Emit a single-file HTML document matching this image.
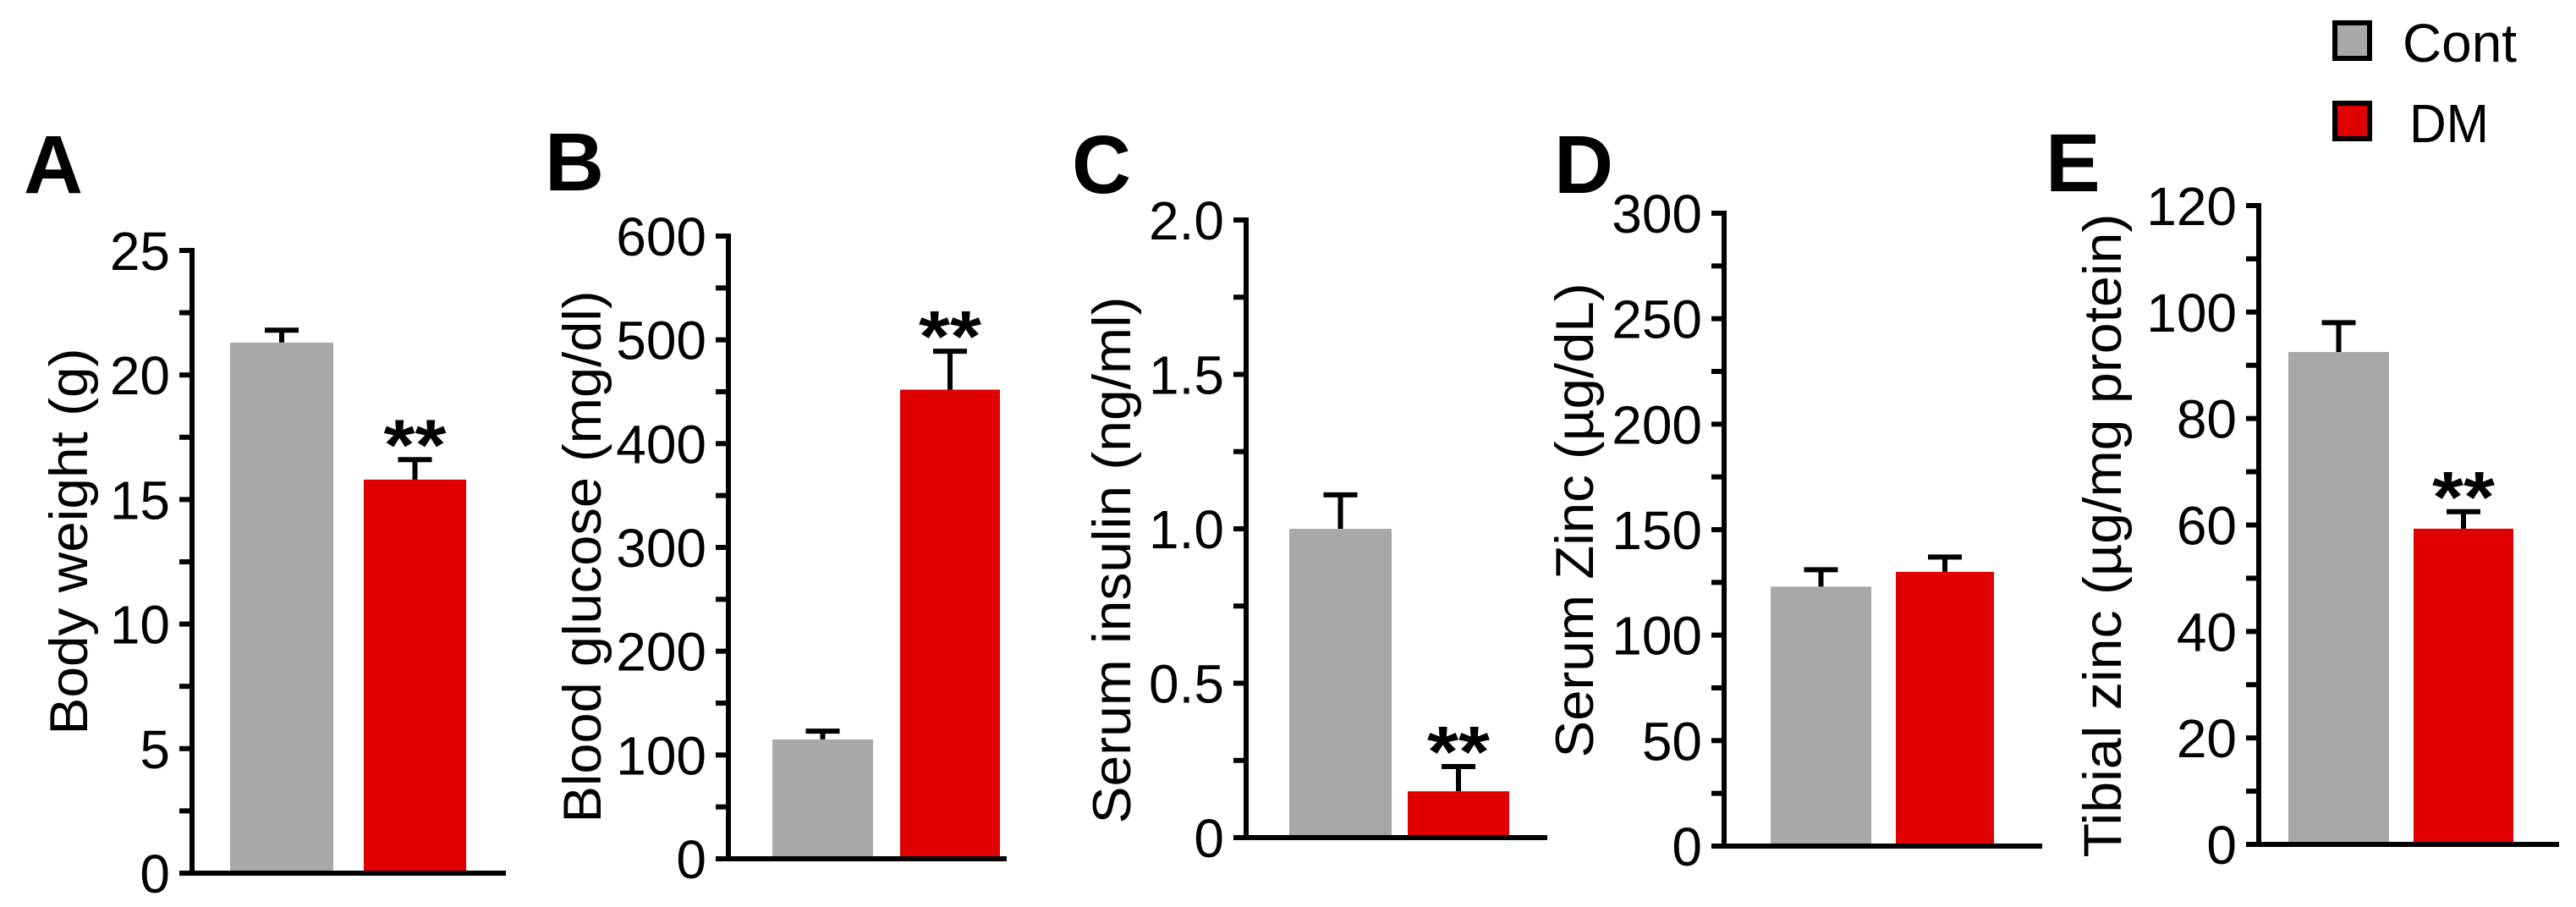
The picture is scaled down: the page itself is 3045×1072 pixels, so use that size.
<!DOCTYPE html>
<html><head><meta charset="utf-8"><style>
html,body{margin:0;padding:0;background:#fff;}
svg{display:block;font-family:"Liberation Sans",Arial,sans-serif;}
</style></head><body>
<svg id="fig" width="3045" height="1072" viewBox="0 0 3045 1072" xmlns="http://www.w3.org/2000/svg">
  <g>
    <rect x="2760" y="27" width="41" height="42" fill="#a8a8a8" stroke="#000" stroke-width="6"/>
    <text x="2840" y="73" font-size="64" textLength="135" lengthAdjust="spacingAndGlyphs">Cont</text>
    <rect x="2760" y="122" width="41" height="42" fill="#e00000" stroke="#000" stroke-width="6"/>
    <text x="2848" y="168" font-size="64" textLength="94" lengthAdjust="spacingAndGlyphs">DM</text>
  </g>
</svg>
<script>
// Data arrays (per panel)
const panelLetters = ["A","B","C","D","E"];
const yTitles = ["Body weight (g)","Blood glucose (mg/dl)","Serum insulin (ng/ml)","Serum Zinc (\u00b5g/dL)","Tibial zinc (\u00b5g/mg protein)"];
const contValues = [21.3, 115, 1.0, 123, 92.5];
const contErrors = [0.5, 8, 0.11, 8, 5.5];
const dmValues = [15.8, 452, 0.15, 130, 59.3];
const dmErrors = [0.8, 37, 0.08, 7, 3.2];
const yMax = [25, 600, 2.0, 300, 120];
const majorStep = [5, 100, 0.5, 50, 20];
const minorStep = [2.5, 50, 0.25, 25, 10];
const tickLabelsA = ["0","5","10","15","20","25"];
const tickLabelsB = ["0","100","200","300","400","500","600"];
const tickLabelsC = ["0","0.5","1.0","1.5","2.0"];
const tickLabelsD = ["0","50","100","150","200","250","300"];
const tickLabelsE = ["0","20","40","60","80","100","120"];
const significant = [true, true, true, false, true];

// Layout (pixel geometry, not data)
const layout = [
  {ax:227, top:296, zero:1032, xEnd:598, g:[272,394], r:[430,551], letter:[28,228], yl:[103,640,457]},
  {ax:861, top:279, zero:1015, xEnd:1190, g:[913,1032], r:[1064,1182], letter:[644,225], yl:[710,658,629]},
  {ax:1473, top:260, zero:990, xEnd:1829, g:[1524,1645], r:[1664,1784], letter:[1267,228], yl:[1336,662,623]},
  {ax:2038, top:252, zero:1000, xEnd:2414, g:[2093,2212], r:[2241,2357], letter:[1837,228], yl:[1883,615,561]},
  {ax:2670, top:243, zero:998, xEnd:3025, g:[2705,2824], r:[2853,2971], letter:[2418,226], yl:[2507,633,761]}
];
const tickLabelSets = [tickLabelsA,tickLabelsB,tickLabelsC,tickLabelsD,tickLabelsE];
const NS = "http://www.w3.org/2000/svg";
const svg = document.getElementById('fig');
function mk(tag, attrs, parent){
  const e = document.createElementNS(NS, tag);
  for (const k in attrs) e.setAttribute(k, attrs[k]);
  parent.appendChild(e);
  return e;
}
panelLetters.forEach((L, i) => {
  const lo = layout[i];
  const y = v => lo.zero - v / yMax[i] * (lo.zero - lo.top);
  const g = mk('g', {}, svg);
  
  

  const lt = mk('text', {x: lo.letter[0], y: lo.letter[1], 'font-size': 97, 'font-weight': 'bold'}, g);
  lt.textContent = L;
  
  

  const yt = mk('text', {x: lo.yl[0], y: lo.yl[1], 'font-size': 63, 'text-anchor': 'middle',
    transform: 'rotate(-90 ' + lo.yl[0] + ' ' + lo.yl[1] + ')', textLength: lo.yl[2], lengthAdjust: 'spacingAndGlyphs'}, g);
  yt.textContent = yTitles[i];
  
  

  // bars
  const bars = [[contValues[i], contErrors[i], lo.g, '#a8a8a8', 'bar-cont'], [dmValues[i], dmErrors[i], lo.r, '#e00000', 'bar-dm']];
  bars.forEach(([v, e, xs, col, nm]) => {
    const cx = (xs[0] + xs[1]) / 2;
    const et = y(v + e);
    const eb = mk('path', {d: 'M' + cx + ' ' + y(v) + 'V' + et + 'M' + (cx - 20) + ' ' + et + 'H' + (cx + 20), stroke: '#000', 'stroke-width': 6, fill: 'none'}, g);
    
    
    const r = mk('rect', {x: xs[0], y: y(v), width: xs[1] - xs[0], height: lo.zero - y(v), fill: col}, g);
    
    
  });
  if (significant[i]) {
    const cx = (lo.r[0] + lo.r[1]) / 2;
    const st = mk('text', {x: cx, y: y(dmValues[i] + dmErrors[i]) + 12, 'font-size': 85, 'font-weight': 'bold', 'text-anchor': 'middle', textLength: 74, lengthAdjust: 'spacingAndGlyphs'}, g);
    st.textContent = '**';
    
    
  }
  // axes
  const ya = mk('line', {x1: lo.ax, y1: lo.top - 3, x2: lo.ax, y2: lo.zero + 3, stroke: '#000', 'stroke-width': 6}, g);
  
  
  const xa = mk('line', {x1: lo.ax, y1: lo.zero, x2: lo.xEnd, y2: lo.zero, stroke: '#000', 'stroke-width': 6}, g);
  
  
  const nMinor = Math.round(yMax[i] / minorStep[i]);
  for (let k = 0; k <= nMinor; k++) {
    const tv = k * minorStep[i];
    const t = mk('line', {x1: lo.ax - 15, y1: y(tv), x2: lo.ax, y2: y(tv), stroke: '#000', 'stroke-width': 6}, g);
    
    
  }
  tickLabelSets[i].forEach((lab, k) => {
    const tv = k * majorStep[i];
    const tx = mk('text', {x: lo.ax - 26, y: y(tv) + 23, 'font-size': 64, 'text-anchor': 'end'}, g);
    tx.textContent = lab;
    
    
  });
});
</script>
</body></html>
